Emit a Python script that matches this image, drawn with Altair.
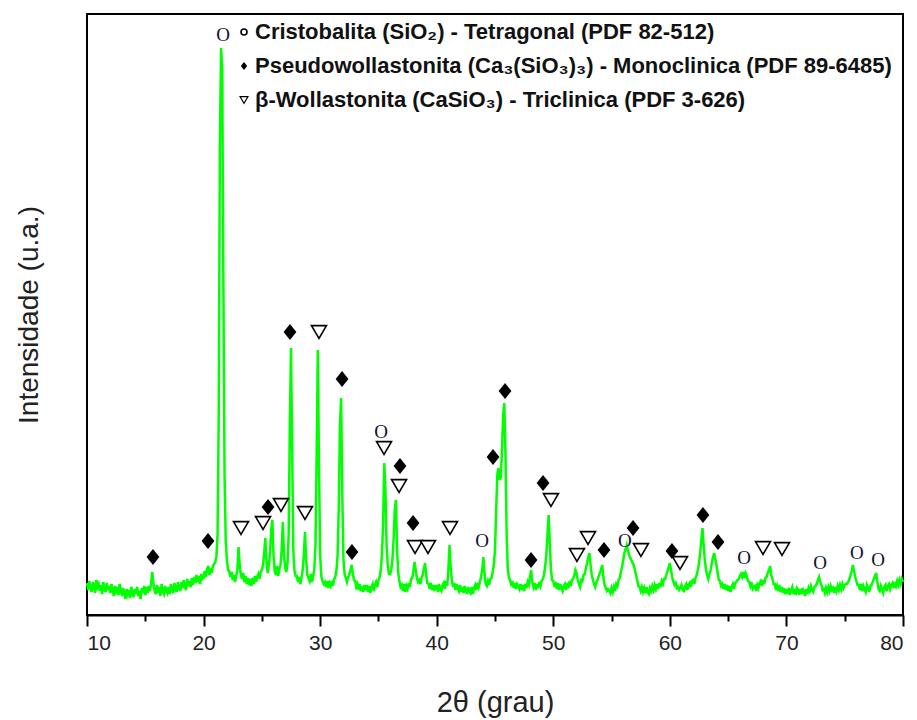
import altair as alt
import pandas as pd

# ---------------- data ----------------
# XRD scan: 2theta from 10.0 to 80.0 deg, instrument step 0.1 deg
SCAN_START = 10.0
SCAN_STEP = 0.1

int_10_20 = [
    32, 25, 34, 27, 23, 33, 29, 22, 35, 28,
    31, 24, 30, 21, 33, 26, 23, 32, 25, 29,
    22, 31, 25, 19, 29, 24, 28, 20, 31, 25,
    19, 27, 22, 16, 26, 21, 25, 17, 28, 22,
    18, 26, 21, 28, 19, 24, 16, 27, 22, 29,
    20, 28, 22, 29, 24, 32, 43, 31, 24, 21,
    30, 22, 28, 19, 31, 24, 21, 29, 25, 22,
    28, 21, 31, 25, 22, 32, 26, 23, 33, 27,
    24, 33, 27, 35, 28, 25, 36, 29, 34, 28,
    37, 30, 38, 32, 40, 33, 39, 31, 41, 36,
]
int_20_30 = [
    37, 44, 38, 46, 49, 40, 47, 42, 49, 51,
    53, 58, 80, 200, 470, 567, 545, 330, 140, 75,
    55, 45, 44, 38, 43, 35, 40, 33, 39, 45,
    68, 50, 40, 36, 42, 33, 39, 31, 37, 30,
    36, 29, 37, 31, 39, 33, 38, 41, 36, 43,
    45, 50, 62, 77, 52, 42, 50, 62, 85, 95,
    60, 44, 40, 49, 39, 46, 50, 65, 93, 60,
    47, 43, 52, 80, 190, 267, 165, 65, 44, 39,
    39, 33, 38, 31, 37, 45, 60, 83, 55, 40,
    37, 34, 41, 33, 39, 45, 70, 160, 265, 150,
]
int_30_40 = [
    60, 39, 34, 31, 33, 28, 34, 27, 32, 29,
    34, 29, 36, 38, 45, 60, 110, 190, 217, 120,
    55, 41, 37, 33, 38, 40, 45, 50, 42, 35,
    34, 28, 31, 25, 31, 24, 29, 23, 30, 25,
    30, 23, 29, 22, 28, 31, 24, 30, 33, 28,
    34, 38, 45, 60, 90, 152, 125, 70, 50, 41,
    41, 45, 55, 75, 105, 115, 65, 42, 34, 28,
    30, 24, 31, 23, 29, 26, 32, 28, 36, 37,
    44, 53, 45, 37, 33, 35, 31, 37, 40, 46,
    52, 40, 32, 31, 26, 32, 25, 30, 24, 29,
]
int_40_50 = [
    29, 23, 31, 26, 24, 30, 32, 26, 34, 29,
    45, 70, 48, 35, 28, 32, 25, 31, 27, 24,
    30, 23, 28, 22, 29, 25, 21, 28, 24, 22,
    28, 21, 27, 30, 25, 32, 28, 33, 38, 45,
    58, 42, 31, 29, 34, 30, 36, 37, 43, 50,
    65, 105, 140, 147, 135, 138, 165, 200, 212, 160,
    80, 45, 37, 35, 29, 34, 27, 32, 26, 31,
    29, 26, 31, 25, 30, 24, 31, 27, 33, 30,
    38, 45, 33, 28, 32, 25, 31, 27, 33, 29,
    34, 36, 40, 48, 60, 80, 100, 72, 45, 35,
]
int_50_60 = [
    34, 28, 33, 26, 32, 25, 31, 27, 24, 29,
    31, 25, 32, 27, 34, 29, 35, 36, 40, 45,
    42, 35, 31, 28, 35, 34, 40, 41, 47, 52,
    58, 62, 50, 40, 35, 31, 28, 33, 35, 39,
    42, 46, 50, 38, 30, 27, 24, 26, 25, 22,
    27, 23, 28, 24, 31, 29, 35, 37, 43, 48,
    55, 62, 66, 70, 65, 60, 57, 55, 52, 50,
    45, 40, 35, 29, 28, 24, 28, 23, 27, 22,
    28, 23, 21, 27, 24, 29, 25, 30, 26, 31,
    26, 32, 28, 34, 31, 36, 36, 40, 44, 48,
]
int_60_70 = [
    52, 45, 38, 33, 30, 32, 27, 28, 25, 27,
    30, 25, 24, 29, 31, 25, 30, 32, 28, 34,
    35, 31, 37, 40, 45, 52, 62, 75, 87, 70,
    55, 45, 40, 36, 41, 45, 52, 58, 62, 56,
    50, 42, 35, 34, 29, 31, 26, 31, 25, 30,
    24, 29, 23, 28, 31, 26, 32, 33, 35, 36,
    39, 41, 38, 43, 37, 42, 39, 34, 33, 29,
    33, 26, 28, 29, 24, 30, 27, 32, 34, 29,
    35, 31, 37, 38, 42, 45, 49, 40, 36, 31,
    31, 25, 29, 24, 30, 23, 28, 22, 27, 21,
]
int_70_80 = [
    26, 21, 27, 20, 25, 28, 21, 26, 20, 27,
    25, 20, 26, 21, 27, 23, 19, 26, 21, 27,
    24, 29, 25, 23, 28, 29, 31, 35, 38, 33,
    30, 25, 26, 22, 27, 23, 28, 24, 29, 25,
    27, 22, 28, 24, 29, 25, 30, 26, 31, 27,
    30, 31, 31, 33, 36, 40, 44, 50, 44, 38,
    34, 30, 30, 25, 31, 24, 29, 26, 23, 30,
    27, 23, 29, 30, 33, 36, 39, 42, 33, 26,
    24, 29, 25, 22, 28, 30, 24, 29, 31, 26,
    30, 32, 27, 33, 29, 34, 30, 35, 31, 36,
]
int_80 = [33]

# phase markers (2theta, level of the marker in intensity units)
cristobalita_2theta = [21.67, 35.22, 43.89, 56.15, 66.36, 72.88, 76.05, 77.86]
cristobalita_level = [580, 183, 74, 74, 57, 52, 62, 55]

pseudo_2theta = [15.66, 20.38, 25.53, 27.41, 31.88, 32.73, 36.85, 37.97, 44.83,
                 45.86, 48.09, 49.12, 54.35, 56.84, 60.18, 62.84, 64.13]
pseudo_level = [58, 74, 108, 283, 236, 63, 149, 92, 158,
                224, 55, 132, 65, 87, 64, 100, 73]

wolla_2theta = [23.21, 25.10, 26.64, 28.70, 29.90, 35.48, 36.77, 38.14, 39.25,
                41.14, 49.80, 52.03, 52.98, 57.52, 60.87, 67.99, 69.62]
wolla_level = [87, 92, 110, 102, 283, 167, 129, 68, 68,
               87, 115, 60, 77, 65, 52, 67, 66]

legend_labels = [
    "Cristobalita (SiO\u2082) - Tetragonal (PDF 82-512)",
    "Pseudowollastonita (Ca\u2083(SiO\u2083)\u2083) - Monoclinica (PDF 89-6485)",
    "\u03b2-Wollastonita (CaSiO\u2083) - Triclinica (PDF 3-626)",
]

x_ticks = [10, 15, 20, 25, 30, 35, 40, 45, 50, 55, 60, 65, 70, 75, 80]
x_title = "2\u03b8 (grau)"
y_title = "Intensidade (u.a.)"

# ---------------- build tables ----------------
intensity = int_10_20 + int_20_30 + int_30_40 + int_40_50 + int_50_60 + int_60_70 + int_70_80 + int_80
two_theta = [round(SCAN_START + SCAN_STEP * i, 1) for i in range(len(intensity))]
scan = pd.DataFrame({"two_theta": two_theta, "intensity": intensity})
cri = pd.DataFrame({"two_theta": cristobalita_2theta, "level": cristobalita_level})
pse = pd.DataFrame({"two_theta": pseudo_2theta, "level": pseudo_level})
wol = pd.DataFrame({"two_theta": wolla_2theta, "level": wolla_level})

FONT = "Liberation Sans"
DIAMOND = "M-0.8,0L0,-1L0.8,0L0,1Z"
TRI_DOWN = "M-1,-0.85L1,-0.85L0,0.85Z"

x_scale = alt.Scale(domain=[10, 80], nice=False, zero=False)
y_scale = alt.Scale(domain=[0, 601], nice=False, zero=False)

x_axis = alt.Axis(
    values=x_ticks,
    labelExpr="datum.value % 10 === 0 ? datum.label : ''",
    tickSize={"condition": {"test": "datum.value % 10 === 0", "value": 11}, "value": 6},
    tickColor="black", tickWidth=2, domainColor="black", domainWidth=2,
    labelFont=FONT, labelFontSize=21, labelColor="#222222", labelPadding=6,
    title=x_title, titleFont=FONT, titleFontSize=29, titleFontWeight="normal",
    titleColor="#222222", titlePadding=35, grid=False,
)
y_axis = alt.Axis(
    labels=False, ticks=False, domain=False, grid=False,
    title=y_title, titleFont=FONT, titleFontSize=28, titleFontWeight="normal",
    titleColor="#222222", titlePadding=44,
)

line = alt.Chart(scan).mark_line(color="#00ff00", strokeWidth=2.5).encode(
    x=alt.X("two_theta:Q", scale=x_scale, axis=x_axis),
    y=alt.Y("intensity:Q", scale=y_scale, axis=y_axis),
)

cri_marks = alt.Chart(cri).mark_text(
    text="O", font="Liberation Serif", fontSize=19, color="#101030", baseline="middle"
).encode(x=alt.X("two_theta:Q", scale=x_scale), y=alt.Y("level:Q", scale=y_scale))

pse_marks = alt.Chart(pse).mark_point(
    shape=DIAMOND, size=256, filled=True, color="black", opacity=1
).encode(x=alt.X("two_theta:Q", scale=x_scale), y=alt.Y("level:Q", scale=y_scale))

wol_marks = alt.Chart(wol).mark_point(
    shape=TRI_DOWN, size=225, fill="white", stroke="black", strokeWidth=1.6,
    fillOpacity=1, opacity=1
).encode(x=alt.X("two_theta:Q", scale=x_scale), y=alt.Y("level:Q", scale=y_scale))

# legend block (top, inside the plot frame)
LEG_X_SYM = 157
LEG_X_TXT = 168
LEG_Y = [18, 52, 86]

leg_sym1 = alt.Chart(pd.DataFrame({"k": [0]})).mark_point(
    shape="circle", size=36, filled=False, color="black", strokeWidth=1.6, opacity=1
).encode(x=alt.value(LEG_X_SYM), y=alt.value(LEG_Y[0]))
leg_sym2 = alt.Chart(pd.DataFrame({"k": [0]})).mark_point(
    shape=DIAMOND, size=64, filled=True, color="black", opacity=1
).encode(x=alt.value(LEG_X_SYM), y=alt.value(LEG_Y[1]))
leg_sym3 = alt.Chart(pd.DataFrame({"k": [0]})).mark_point(
    shape=TRI_DOWN, size=64, fill="white", stroke="black", strokeWidth=1.1, opacity=1
).encode(x=alt.value(LEG_X_SYM), y=alt.value(LEG_Y[2]))

leg_texts = []
for lbl, yy in zip(legend_labels, LEG_Y):
    leg_texts.append(
        alt.Chart(pd.DataFrame({"label": [lbl]})).mark_text(
            font=FONT, fontSize=22, fontWeight="bold", color="#111111",
            align="left", baseline="middle"
        ).encode(x=alt.value(LEG_X_TXT), y=alt.value(yy), text="label:N")
    )

chart = alt.layer(
    line, cri_marks, pse_marks, wol_marks, leg_sym1, leg_sym2, leg_sym3, *leg_texts
).properties(
    width=816, height=601,
    autosize=alt.AutoSizeParams(type="none"),
    padding={"left": 79, "top": 6, "right": 6, "bottom": 104},
).configure_view(stroke="black", strokeWidth=2)

chart.save("out.html", embed_options={"renderer": "svg", "actions": False})
